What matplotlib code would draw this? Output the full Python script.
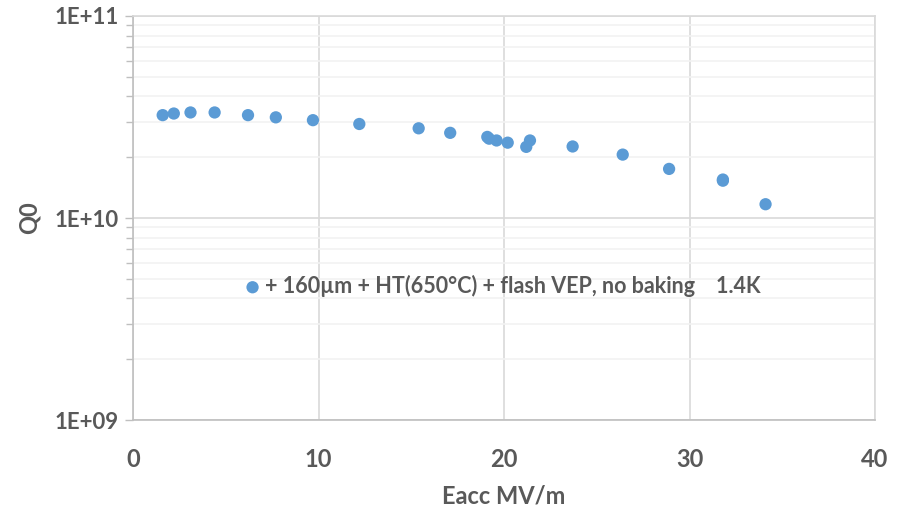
import matplotlib
matplotlib.use("Agg")
import matplotlib.pyplot as plt
from matplotlib.ticker import LogLocator, FixedLocator, NullFormatter

# Accelerating gradient (MV/m) and intrinsic quality factor
eacc = [1.6, 2.2, 3.1, 4.4, 6.2, 7.7, 9.7, 12.2, 15.4, 17.1, 19.1, 19.2,
        19.6, 20.2, 21.2, 21.4, 23.7, 26.4, 28.9, 31.8, 31.8, 34.1]
q0 = [3.23e10, 3.29e10, 3.33e10, 3.33e10, 3.23e10, 3.15e10, 3.05e10, 2.92e10,
      2.78e10, 2.64e10, 2.52e10, 2.47e10, 2.42e10, 2.36e10, 2.25e10, 2.42e10,
      2.26e10, 2.06e10, 1.75e10, 1.55e10, 1.53e10, 1.17e10]

series_label = "+ 160\u00b5m + HT(650\u00b0C) + flash VEP, no baking    1.4K"
x_ticks = [0, 10, 20, 30, 40]
y_ticks = [1e9, 1e10, 1e11]
y_tick_labels = ["1E+09", "1E+10", "1E+11"]

plt.rcParams["font.family"] = ["Lato", "DejaVu Sans"]
text_color = "#595959"

fig = plt.figure(figsize=(8.98, 5.11), dpi=100)
ax = fig.add_axes([133 / 898, (511 - 420) / 511, (875 - 133) / 898, (420 - 16) / 511])

ax.scatter(eacc, q0, s=78, color="#5B9BD5", edgecolors="none", zorder=3,
           label=series_label)

ax.set_yscale("log")
ax.set_xlim(0, 40)
ax.set_ylim(1e9, 1e11)

ax.xaxis.set_major_locator(FixedLocator(x_ticks))
ax.yaxis.set_major_locator(FixedLocator(y_ticks))
ax.set_yticklabels(y_tick_labels)
ax.yaxis.set_minor_locator(LogLocator(base=10, subs=range(2, 10)))
ax.yaxis.set_minor_formatter(NullFormatter())

ax.grid(True, which="major", axis="both", color="#D9D9D9", linewidth=1.2, zorder=0)
ax.grid(True, which="minor", axis="y", color="#F2F2F2", linewidth=1.2, zorder=0)
ax.set_axisbelow(True)

for side in ("top", "right"):
    ax.spines[side].set_color("#D9D9D9")
    ax.spines[side].set_linewidth(1.2)
for side in ("left", "bottom"):
    ax.spines[side].set_color("#BFBFBF")
    ax.spines[side].set_linewidth(1.2)

ax.tick_params(axis="y", which="major", length=6, color="#BFBFBF", width=1,
               labelsize=16, labelcolor=text_color, pad=4)
ax.tick_params(axis="y", which="minor", length=5, color="#BFBFBF", width=1)
ax.tick_params(axis="x", which="major", length=0, labelsize=17,
               labelcolor=text_color, pad=20)
for lbl in ax.get_xticklabels() + ax.get_yticklabels():
    lbl.set_fontweight("bold")

ax.set_xlabel("Eacc MV/m", fontsize=17, fontweight="bold", color=text_color, labelpad=10)
ax.set_ylabel("Q0", fontsize=17, fontweight="bold", color=text_color, labelpad=10)

leg = ax.legend(loc="center left", bbox_to_anchor=(0.135, 0.332), frameon=False,
                handletextpad=0.1, handlelength=1.0, borderaxespad=0,
                prop={"size": 15.5, "weight": "bold"})
for t in leg.get_texts():
    t.set_color(text_color)

fig.savefig("out.png", dpi=100, facecolor="white")
